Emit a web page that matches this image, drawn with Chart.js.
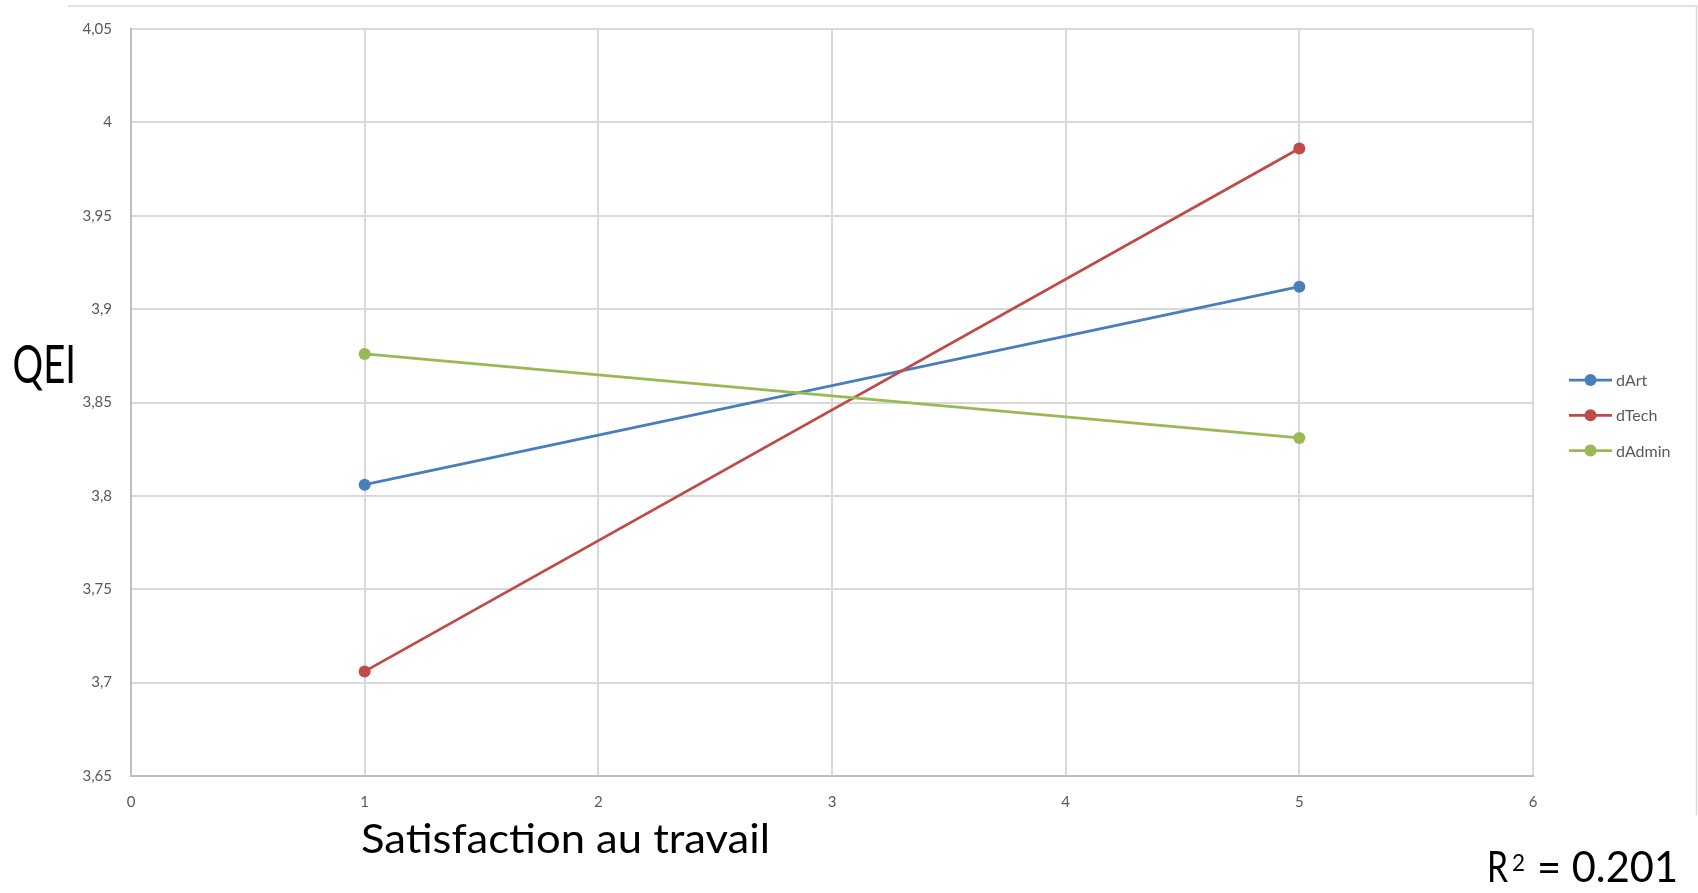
<!DOCTYPE html>
<html>
<head>
<meta charset="utf-8">
<script src="https://cdn.jsdelivr.net/npm/chart.js@4.4.1/dist/chart.umd.min.js"></script>
<style>
  html, body { margin: 0; padding: 0; background: #ffffff; }
  #wrap { width: 1698px; height: 893px; position: relative; }
  canvas { display: block; }
</style>
</head>
<body>
<div id="wrap"><canvas id="chart" width="1698" height="893"></canvas></div>
<script>
// Satisfaction levels and mean QEI per department
const satisfaction = [1, 5];
const dArt = [3.806, 3.912];
const dTech = [3.706, 3.986];
const dAdmin = [3.876, 3.831];
const seriesNames = ['dArt', 'dTech', 'dAdmin'];
const seriesColors = ['#4A7EBB', '#BE4B48', '#98B954'];
const xAxisTitle = 'Satisfaction au travail';
const yAxisTitle = 'QEI';
const fitNote = { base: 'R', sup: '2', rest: '= 0.201' };

const FONT = 'Lato, "Open Sans", "DejaVu Sans", sans-serif';
const CAP_RATIO = 0.7165; // Lato cap height / em

function points(values) {
  return satisfaction.map((s, i) => ({ x: s, y: values[i] }));
}

const seriesValues = [dArt, dTech, dAdmin];
const datasets = seriesNames.map((name, i) => ({
  label: name,
  data: points(seriesValues[i]),
  borderColor: seriesColors[i],
  backgroundColor: seriesColors[i],
  borderWidth: 2.75,
  pointRadius: 6,
  pointHoverRadius: 6,
  pointBorderWidth: 0,
  tension: 0,
  order: seriesNames.length - i
}));

// Draw a text run sized by its cap height and stretched to a given width
function fitText(ctx, text, x, baseline, capHeight, width) {
  const size = capHeight / CAP_RATIO;
  ctx.font = size.toFixed(1) + 'px ' + FONT;
  const natural = ctx.measureText(text).width;
  ctx.save();
  ctx.translate(x, baseline);
  ctx.scale(width / natural, 1);
  ctx.fillText(text, 0, 0);
  ctx.restore();
}

// Frame, axis titles, legend and the R² note
const decorations = {
  id: 'decorations',
  beforeDraw(chart) {
    const ctx = chart.ctx;
    ctx.save();
    ctx.fillStyle = '#ffffff';
    ctx.fillRect(0, 0, chart.width, chart.height);
    ctx.strokeStyle = '#D9D9D9';
    ctx.lineWidth = 1.5;
    ctx.beginPath();
    ctx.moveTo(68, 6);
    ctx.lineTo(1696.5, 6);
    ctx.lineTo(1696.5, 815);
    ctx.stroke();
    ctx.restore();
  },
  afterDraw(chart) {
    const ctx = chart.ctx;
    ctx.save();
    ctx.fillStyle = '#000000';
    ctx.textAlign = 'left';
    ctx.textBaseline = 'alphabetic';

    fitText(ctx, yAxisTitle, 12.5, 383, 37, 63.5);
    fitText(ctx, xAxisTitle, 361, 853, 29.5, 409);

    fitText(ctx, fitNote.base, 1487, 881.5, 31, 21);
    fitText(ctx, fitNote.sup, 1512, 870.5, 16.5, 13);
    fitText(ctx, fitNote.rest, 1537, 881.5, 31, 141);

    // legend
    const legendTop = 380;
    const gap = 35.3;
    chart.data.datasets.forEach((ds, i) => {
      const y = legendTop + i * gap;
      ctx.strokeStyle = ds.borderColor;
      ctx.lineWidth = 2.75;
      ctx.beginPath();
      ctx.moveTo(1569, y);
      ctx.lineTo(1612, y);
      ctx.stroke();
      ctx.fillStyle = ds.backgroundColor;
      ctx.beginPath();
      ctx.arc(1590.5, y, 6, 0, Math.PI * 2);
      ctx.fill();
      ctx.fillStyle = '#595959';
      ctx.font = '16px ' + FONT;
      ctx.textBaseline = 'middle';
      ctx.fillText(ds.label, 1616, y + 1);
    });
    ctx.restore();
  }
};

function commaDecimal(v) {
  return String(+v.toFixed(2)).replace('.', ',');
}

new Chart(document.getElementById('chart'), {
  type: 'line',
  data: { datasets },
  options: {
    responsive: false,
    animation: false,
    events: [],
    layout: { padding: { left: 0, top: 29, right: 165, bottom: 0 } },
    plugins: {
      legend: { display: false },
      tooltip: { enabled: false }
    },
    scales: {
      x: {
        type: 'linear',
        min: 0,
        max: 6,
        ticks: {
          stepSize: 1,
          padding: 17,
          color: '#595959',
          font: { family: FONT, size: 15 }
        },
        grid: { color: '#D9D9D9', lineWidth: 2, drawTicks: false },
        border: { color: '#BFBFBF', width: 2 },
        afterFit(scale) { scale.height = 117; }
      },
      y: {
        min: 3.65,
        max: 4.05,
        ticks: {
          stepSize: 0.05,
          padding: 19,
          color: '#595959',
          font: { family: FONT, size: 15 },
          callback: (v) => commaDecimal(v)
        },
        grid: { color: '#D9D9D9', lineWidth: 2, drawTicks: false },
        border: { color: '#BFBFBF', width: 2 },
        afterFit(scale) { scale.width = 131; }
      }
    }
  },
  plugins: [decorations]
});
</script>
</body>
</html>
